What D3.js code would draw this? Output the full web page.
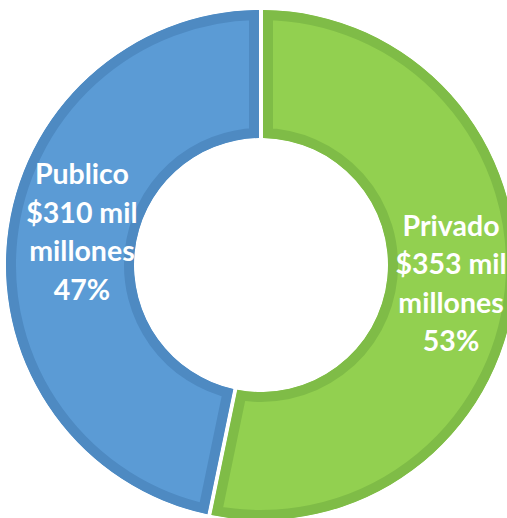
<!DOCTYPE html>
<html>
<head>
<meta charset="utf-8">
<script src="https://cdn.jsdelivr.net/npm/d3@7"></script>
<style>
  html, body { margin: 0; padding: 0; background: #ffffff; }
  svg { display: block; }
</style>
</head>
<body>
<svg id="chart" width="507" height="518"></svg>
<script>
// Data
const categories = ["Privado", "Publico"];
const values = [353, 310];               // millones (USD)
const valueLabels = ["$353 mil", "$310 mil"];
const unitLabel = "millones";
const fillColors = ["#92D050", "#5B9BD5"];
const edgeColors = ["#7FBC47", "#4E8AC2"];

const width = 507, height = 518;
const cx = 261, cy = 265;
const outerR = 255, innerR = 127;

const svg = d3.select("#chart");
const defs = svg.append("defs");
const g = svg.append("g").attr("transform", `translate(${cx},${cy})`);

const total = d3.sum(values);
const pie = d3.pie().sort(null).startAngle(0).endAngle(2 * Math.PI);
const arcs = pie(values);

const padR = 200;
const arc = d3.arc()
  .innerRadius(innerR)
  .outerRadius(outerR)
  .padRadius(padR)
  .padAngle(4 / padR);

arcs.forEach((a, i) => {
  const d = arc(a);
  const clipId = "clip" + i;
  defs.append("clipPath").attr("id", clipId)
    .append("path").attr("d", d);
  g.append("path")
    .attr("d", d)
    .attr("fill", fillColors[i])
    .attr("stroke", edgeColors[i])
    .attr("stroke-width", 20)
    .attr("stroke-linejoin", "miter")
    .attr("clip-path", `url(#${clipId})`);
});

// Labels
const labelArc = d3.arc().innerRadius(180).outerRadius(180);
const nudges = [[11, 0], [0, -15]];
const fontSize = 28.5;
const lineH = 38.5;

arcs.forEach((a, i) => {
  const [x, y] = labelArc.centroid(a);
  const pct = Math.round(values[i] / total * 100) + "%";
  const lines = [categories[i], valueLabels[i], unitLabel, pct];
  const t = g.append("text")
    .attr("text-anchor", "middle")
    .attr("font-family", "Lato, 'Open Sans', sans-serif")
    .attr("font-weight", "bold")
    .attr("font-size", fontSize)
    .attr("fill", "#ffffff");
  const x0 = x + nudges[i][0];
  const yTop = y + nudges[i][1] - (lines.length - 1) * lineH / 2 + fontSize * 0.36;
  lines.forEach((s, k) => {
    t.append("tspan").attr("x", x0).attr("y", yTop + k * lineH).text(s);
  });
});
</script>
</body>
</html>
